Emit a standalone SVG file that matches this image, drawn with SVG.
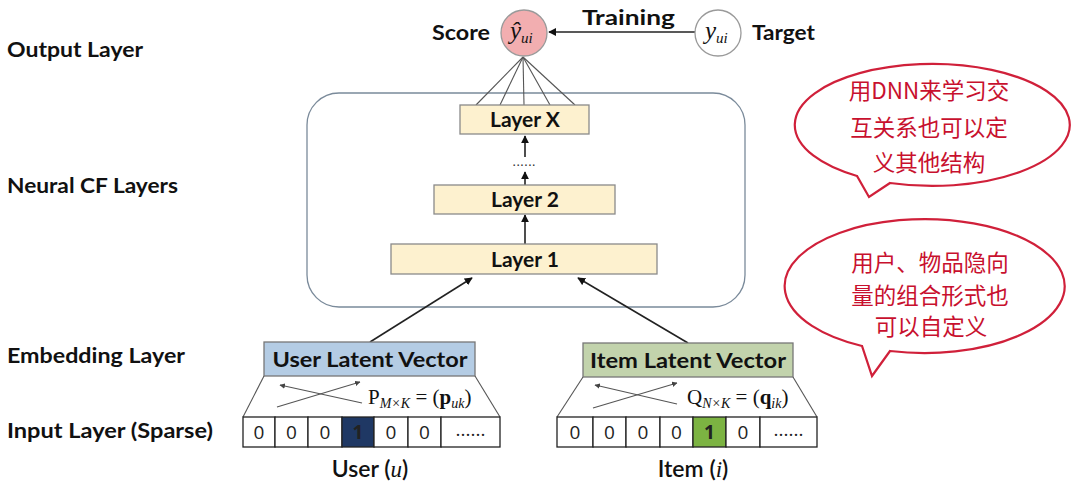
<svg xmlns="http://www.w3.org/2000/svg" width="1080" height="489" viewBox="0 0 1080 489">
<style>
.lbl{font-family:Lato,"Liberation Sans",sans-serif;font-weight:bold;font-size:21px;fill:#111}
.cap{font-family:Lato,"Liberation Sans",sans-serif;font-weight:600;font-size:23px;fill:#111;text-anchor:middle}
.lay{fill:#fdf1cf;stroke:#8a8a8a;stroke-width:1.3}
.cell{fill:#fff;stroke:#222;stroke-width:1.3}
.num{font-family:"Open Sans","Liberation Sans",sans-serif;font-size:19px;fill:#222;text-anchor:middle}
.math{font-family:"Liberation Serif",serif;fill:#111}
.conn{stroke:#222;stroke-width:1.6;fill:none}
.thin{stroke:#555;stroke-width:1.1;fill:none}
.bub{fill:#fff;stroke:#d0203a;stroke-width:2.2}
.cjk{font-family:"Noto Sans CJK SC",sans-serif;font-size:22.5px;fill:#c8102e;text-anchor:middle}
</style>
<defs>
<marker id="ah" viewBox="0 0 10 10" refX="9" refY="5" markerWidth="5" markerHeight="5" orient="auto"><path d="M0,0 L10,5 L0,10 z" fill="#111"/></marker>
<marker id="ahs" viewBox="0 0 10 10" refX="9" refY="5" markerWidth="5" markerHeight="5" orient="auto"><path d="M0,0 L10,5 L0,10 z" fill="#444"/></marker>
</defs>
<rect width="1080" height="489" fill="#fff"/>

<g id="labels">
<text class="lbl" x="7" y="57" textLength="136" lengthAdjust="spacingAndGlyphs">Output Layer</text>
<text class="lbl" x="7" y="193" textLength="171" lengthAdjust="spacingAndGlyphs">Neural CF Layers</text>
<text class="lbl" x="7" y="363" textLength="178" lengthAdjust="spacingAndGlyphs">Embedding Layer</text>
<text class="lbl" x="7" y="438" textLength="206" lengthAdjust="spacingAndGlyphs">Input Layer (Sparse)</text>
</g>

<g id="ncf-box"><rect x="307" y="93" width="438" height="214" rx="32" fill="none" stroke="#7a8a9a" stroke-width="1.3"/></g>

<g id="connectors">
<line class="conn" x1="695" y1="32" x2="549" y2="32" marker-end="url(#ah)"/>
<line class="thin" x1="523" y1="57" x2="476" y2="105"/>
<line class="thin" x1="523" y1="57" x2="500" y2="105"/>
<line class="thin" x1="523" y1="57" x2="524" y2="105"/>
<line class="thin" x1="523" y1="57" x2="550" y2="105"/>
<line class="thin" x1="523" y1="57" x2="575" y2="105"/>
<line class="conn" x1="525" y1="244" x2="525" y2="215" marker-end="url(#ah)"/>
<line class="conn" x1="525" y1="185" x2="525" y2="172" marker-end="url(#ah)"/>
<line class="conn" x1="525" y1="157" x2="525" y2="136" marker-end="url(#ah)"/>
<line class="conn" x1="370" y1="342" x2="472" y2="278" stroke="#333" marker-end="url(#ah)"/>
<line class="conn" x1="688" y1="343" x2="578" y2="278" stroke="#333" marker-end="url(#ah)"/>
</g>

<g id="score">
<circle cx="524" cy="33" r="23" fill="#f2aeb0" stroke="#9a9a9a" stroke-width="1.3"/>
<text x="432" y="40" class="lbl" textLength="58" lengthAdjust="spacingAndGlyphs">Score</text>
<text class="math" x="510" y="39" font-size="25" font-style="italic" fill="#3a1010">ŷ<tspan font-size="15" dy="4">ui</tspan></text>
</g>
<g id="target">
<circle cx="718" cy="33" r="23" fill="#fff" stroke="#9a9a9a" stroke-width="1.3"/>
<text class="math" x="705" y="39" font-size="25" font-style="italic">y<tspan font-size="15" dy="4">ui</tspan></text>
<text x="752" y="40" class="lbl" textLength="63" lengthAdjust="spacingAndGlyphs">Target</text>
</g>
<g id="training"><text x="582" y="25" class="lbl" textLength="93" lengthAdjust="spacingAndGlyphs">Training</text></g>

<g id="layerX"><rect class="lay" x="460" y="105" width="129" height="29"/><text class="lbl" x="525" y="127" text-anchor="middle" font-size="20">Layer X</text></g>
<g id="dots"><text x="524" y="166" font-family="Liberation Sans,sans-serif" font-size="14" fill="#333" text-anchor="middle">......</text></g>
<g id="layer2"><rect class="lay" x="434" y="185" width="181" height="29"/><text class="lbl" x="525" y="207" text-anchor="middle" font-size="20">Layer 2</text></g>
<g id="layer1"><rect class="lay" x="391" y="244" width="266" height="30"/><text class="lbl" x="525" y="267" text-anchor="middle" font-size="20">Layer 1</text></g>

<g id="user-embedding">
<rect x="264" y="342" width="211" height="34" fill="#b4cce4" stroke="#777" stroke-width="1.3"/>
<text class="lbl" x="370" y="367" text-anchor="middle" textLength="195" lengthAdjust="spacingAndGlyphs">User Latent Vector</text>
<line class="thin" x1="264" y1="376" x2="243" y2="417"/>
<line class="thin" x1="475" y1="376" x2="500" y2="417"/>
<line class="thin" x1="277" y1="407" x2="360" y2="382" marker-end="url(#ahs)"/>
<line class="thin" x1="362" y1="403" x2="280" y2="385" marker-end="url(#ahs)"/>
<text class="math" x="368" y="404" font-size="21"><tspan>P</tspan><tspan font-size="14" font-style="italic" dy="4">M×K</tspan><tspan dy="-4"> = (</tspan><tspan font-weight="bold">p</tspan><tspan font-size="14" font-style="italic" dy="4">uk</tspan><tspan dy="-4">)</tspan></text>
</g>
<g id="user-input">
<rect class="cell" x="243" y="417" width="32" height="30"/>
<rect class="cell" x="275" y="417" width="33" height="30"/>
<rect class="cell" x="308" y="417" width="34" height="30"/>
<rect x="342" y="417" width="32" height="30" fill="#1f3864" stroke="#222" stroke-width="1.3"/>
<rect class="cell" x="374" y="417" width="34" height="30"/>
<rect class="cell" x="408" y="417" width="33" height="30"/>
<rect class="cell" x="441" y="417" width="59" height="30"/>
<text class="num" x="259" y="439">0</text>
<text class="num" x="291.5" y="439">0</text>
<text class="num" x="325" y="439">0</text>
<text class="num" x="358" y="439" fill="#fff" font-weight="bold">1</text>
<text class="num" x="391" y="439">0</text>
<text class="num" x="424.5" y="439">0</text>
<text class="num" x="470.5" y="436" font-size="13">......</text>
<text class="cap" x="370" y="477">User (<tspan font-family="Liberation Serif,serif" font-style="italic" font-weight="normal">u</tspan>)</text>
</g>

<g id="item-embedding">
<rect x="583" y="343" width="210" height="34" fill="#c2d3ac" stroke="#777" stroke-width="1.3"/>
<text class="lbl" x="688" y="368" text-anchor="middle" textLength="196" lengthAdjust="spacingAndGlyphs">Item Latent Vector</text>
<line class="thin" x1="583" y1="377" x2="557" y2="417"/>
<line class="thin" x1="793" y1="377" x2="817" y2="417"/>
<line class="thin" x1="593" y1="408" x2="677" y2="383" marker-end="url(#ahs)"/>
<line class="thin" x1="677" y1="404" x2="595" y2="385" marker-end="url(#ahs)"/>
<text class="math" x="687" y="404" font-size="21"><tspan>Q</tspan><tspan font-size="14" font-style="italic" dy="4">N×K</tspan><tspan dy="-4"> = (</tspan><tspan font-weight="bold">q</tspan><tspan font-size="14" font-style="italic" dy="4">ik</tspan><tspan dy="-4">)</tspan></text>
</g>
<g id="item-input">
<rect class="cell" x="557" y="417" width="36" height="30"/>
<rect class="cell" x="593" y="417" width="33" height="30"/>
<rect class="cell" x="626" y="417" width="34" height="30"/>
<rect class="cell" x="660" y="417" width="33" height="30"/>
<rect x="693" y="417" width="33" height="30" fill="#7cb342" stroke="#222" stroke-width="1.3"/>
<rect class="cell" x="726" y="417" width="34" height="30"/>
<rect class="cell" x="760" y="417" width="57" height="30"/>
<text class="num" x="575" y="439">0</text>
<text class="num" x="609.5" y="439">0</text>
<text class="num" x="643" y="439">0</text>
<text class="num" x="676.5" y="439">0</text>
<text class="num" x="709.5" y="439" font-weight="bold">1</text>
<text class="num" x="743" y="439">0</text>
<text class="num" x="788.5" y="436" font-size="13">......</text>
<text class="cap" x="693" y="477">Item (<tspan font-family="Liberation Serif,serif" font-style="italic" font-weight="normal">i</tspan>)</text>
</g>

<g id="bubble1">
<path class="bub" d="M890,183 A137.5 61 0 1 0 857,176 L869,197 Z"/>
<text class="cjk" x="929" y="99">用DNN来学习交</text>
<text class="cjk" x="929" y="136">互关系也可以定</text>
<text class="cjk" x="929" y="171">义其他结构</text>
</g>
<g id="bubble2">
<path class="bub" d="M890,351 A140 67 0 1 0 862,346 L872,376 Z"/>
<text class="cjk" x="930" y="271">用户、物品隐向</text>
<text class="cjk" x="930" y="304">量的组合形式也</text>
<text class="cjk" x="931" y="335">可以自定义</text>
</g>
</svg>
